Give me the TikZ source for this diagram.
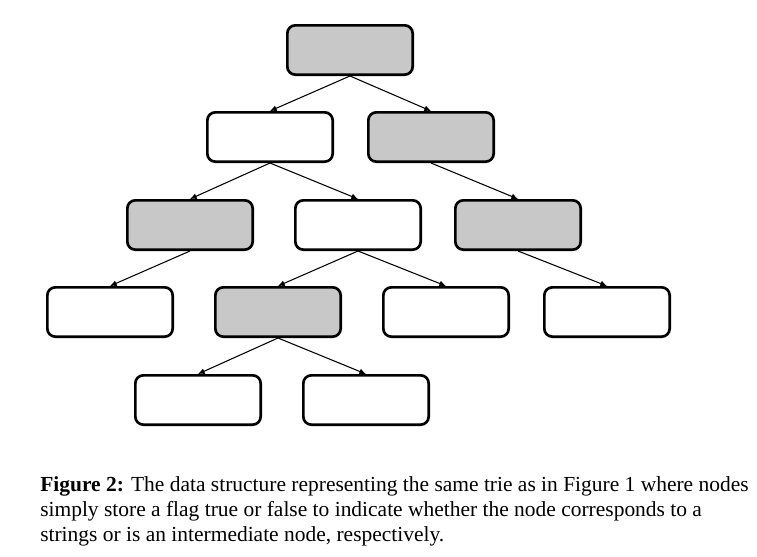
\documentclass[tikz,border=0pt]{standalone}
\usepackage{fontspec}
\setmainfont{Liberation Serif}
\usetikzlibrary{arrows.meta}
\definecolor{trieG}{RGB}{200,200,200}

\begin{document}
\begin{tikzpicture}[x=0.75pt,y=-0.75pt,
  tnode/.style={draw,line width=2pt,rounded corners=6pt,minimum width=94pt,minimum height=37pt,inner sep=0pt},
  flag/.style={tnode,fill=trieG},
  edge/.style={line width=0.8pt,-{Latex[length=5pt,width=4.5pt]}}]
\useasboundingbox (0,0) rectangle (757,557);
% trie nodes
\node[flag] (r) at (350,50) {};
\node[tnode] (a) at (270,137) {}; \node[flag] (b) at (431,137) {};
\node[flag] (aa) at (190,225) {}; \node[tnode] (ab) at (358,225) {}; \node[flag] (ba) at (518,225) {};
\node[tnode] (aaa) at (110,312) {}; \node[flag] (aba) at (278,312) {};
\node[tnode] (abb) at (446,312) {}; \node[tnode] (baa) at (607,312) {};
\node[tnode] (abaa) at (198,400) {}; \node[tnode] (abab) at (366,400) {};
% edges
\foreach \p/\c in {r/a,r/b,a/aa,a/ab,b/ba,aa/aaa,ab/aba,ab/abb,ba/baa,aba/abaa,aba/abab}
  \draw[edge] (\p.south) -- (\c.north);
% caption
\node[anchor=base west,align=left,font=\fontsize{16.1}{18.4}\selectfont,inner sep=0pt] (cap) at (40,541)
  {\textbf{Figure 2:} The data structure representing the same trie as in Figure 1 where nodes\\
   simply store a flag true or false to indicate whether the node corresponds to a\\
   strings or is an intermediate node, respectively.};
\end{tikzpicture}
\end{document}
